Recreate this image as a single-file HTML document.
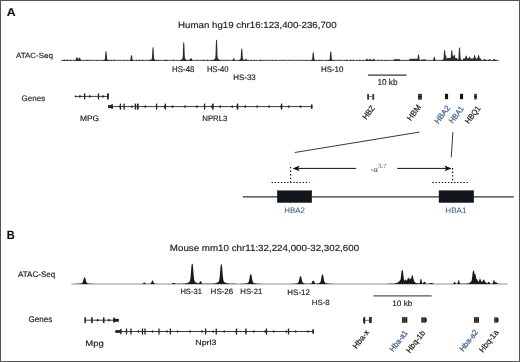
<!DOCTYPE html>
<html><head><meta charset="utf-8"><style>
html,body{margin:0;padding:0;background:#fff;}
svg{display:block;will-change:transform;}
text{text-rendering:geometricPrecision;}
</style></head><body>
<svg width="520" height="362" viewBox="0 0 520 362">
<rect width="520" height="362" fill="#fff"/>
<rect x="0.5" y="0.5" width="519" height="361" fill="none" stroke="#555" stroke-width="1"/>
<text x="6.69" y="16.00" font-size="11.45" font-family="Liberation Sans, sans-serif" font-weight="bold" fill="#111" textLength="8.84" lengthAdjust="spacingAndGlyphs" stroke="#111" stroke-width="0.16">A</text>
<text x="178.12" y="27.50" font-size="8.97" font-family="Liberation Sans, sans-serif" font-weight="normal" fill="#222" textLength="158.53" lengthAdjust="spacingAndGlyphs" stroke="#222" stroke-width="0.16">Human hg19 chr16:123,400-236,700</text>
<text x="15.96" y="57.60" font-size="7.57" font-family="Liberation Sans, sans-serif" font-weight="normal" fill="#222" textLength="36.87" lengthAdjust="spacingAndGlyphs" stroke="#222" stroke-width="0.16">ATAC-Seq</text>
<line x1="61.5" y1="60.4" x2="498.75" y2="60.4" stroke="#8a8a8a" stroke-width="1.1"/>
<path d="M61.50,61.00 L61.50,60.10 L61.75,59.99 L62.00,60.12 L62.25,60.34 L62.50,60.54 L62.75,60.67 L63.00,60.72 L63.25,60.51 L63.50,60.18 L63.75,59.85 L64.00,59.68 L64.25,59.65 L64.50,59.65 L64.75,59.67 L65.00,59.80 L65.25,60.09 L65.50,60.33 L65.75,60.53 L66.00,60.67 L66.25,60.65 L66.50,60.40 L66.75,60.09 L67.00,59.87 L67.25,59.80 L67.50,59.80 L67.75,59.80 L68.00,59.87 L68.25,60.09 L68.50,60.39 L68.75,60.53 L69.00,60.66 L69.25,60.76 L69.50,60.73 L69.75,60.63 L70.00,60.48 L70.25,60.25 L70.50,59.98 L70.75,59.78 L71.00,59.85 L71.25,60.12 L71.50,60.37 L71.75,60.56 L72.00,60.68 L72.25,60.76 L72.50,60.82 L72.75,60.85 L73.00,60.79 L73.25,60.71 L73.50,60.59 L73.75,60.42 L74.00,60.26 L74.25,60.24 L74.50,60.37 L74.75,60.55 L75.00,60.58 L75.25,60.50 L75.50,60.18 L75.75,59.56 L76.00,58.85 L76.25,57.99 L76.50,57.39 L76.75,57.21 L77.00,57.20 L77.25,57.21 L77.50,57.39 L77.75,57.99 L78.00,58.85 L78.25,59.56 L78.50,59.10 L78.75,58.37 L79.00,57.86 L79.25,57.71 L79.50,57.70 L79.75,57.71 L80.00,57.86 L80.25,58.37 L80.50,59.10 L80.75,59.78 L81.00,60.05 L81.25,60.20 L81.50,60.42 L81.75,60.59 L82.00,60.71 L82.25,60.77 L82.50,60.80 L82.75,60.79 L83.00,60.71 L83.25,60.58 L83.50,60.42 L83.75,60.30 L84.00,60.32 L84.25,60.47 L84.50,60.62 L84.75,60.74 L85.00,60.81 L85.25,60.82 L85.50,60.76 L85.75,60.68 L86.00,60.55 L86.25,60.36 L86.50,60.10 L86.75,59.83 L87.00,59.76 L87.25,59.96 L87.50,60.24 L87.75,60.47 L88.00,60.62 L88.25,60.72 L88.50,60.77 L88.75,60.70 L89.00,60.58 L89.25,60.40 L89.50,60.15 L89.75,59.91 L90.00,59.86 L90.25,60.05 L90.50,60.31 L90.75,60.52 L91.00,60.66 L91.25,60.75 L91.50,60.81 L91.75,60.85 L92.00,60.83 L92.25,60.76 L92.50,60.66 L92.75,60.52 L93.00,60.39 L93.25,60.36 L93.50,60.47 L93.75,60.62 L94.00,60.73 L94.25,60.81 L94.50,60.86 L94.75,60.83 L95.00,60.78 L95.25,60.70 L95.50,60.58 L95.75,60.41 L96.00,60.17 L96.25,59.98 L96.50,60.00 L96.75,60.21 L97.00,60.43 L97.25,60.60 L97.50,60.71 L97.75,60.79 L98.00,60.80 L98.25,60.71 L98.50,60.59 L98.75,60.45 L99.00,60.38 L99.25,60.45 L99.50,60.59 L99.75,60.71 L100.00,60.79 L100.25,60.84 L100.50,60.83 L100.75,60.81 L101.00,60.79 L101.25,60.77 L101.50,60.75 L101.75,60.65 L102.00,60.50 L102.25,60.29 L102.50,60.10 L102.75,60.06 L103.00,60.22 L103.25,60.40 L103.50,60.31 L103.75,60.19 L104.00,60.04 L104.25,59.86 L104.50,59.63 L104.75,59.40 L105.00,57.98 L105.25,54.25 L105.50,51.67 L105.75,51.31 L106.00,51.30 L106.25,51.31 L106.50,51.67 L106.75,54.25 L107.00,57.98 L107.25,59.40 L107.50,59.63 L107.75,59.86 L108.00,60.04 L108.25,60.10 L108.50,59.82 L108.75,59.71 L109.00,59.89 L109.25,60.19 L109.50,60.43 L109.75,60.60 L110.00,60.69 L110.25,60.71 L110.50,60.60 L110.75,60.44 L111.00,60.20 L111.25,59.93 L111.50,59.80 L111.75,59.94 L112.00,60.21 L112.25,60.45 L112.50,60.61 L112.75,60.72 L113.00,60.79 L113.25,60.74 L113.50,60.65 L113.75,60.51 L114.00,60.30 L114.25,60.01 L114.50,59.75 L114.75,59.73 L115.00,59.97 L115.25,60.26 L115.50,60.48 L115.75,60.63 L116.00,60.73 L116.25,60.79 L116.50,60.84 L116.75,60.87 L117.00,60.82 L117.25,60.76 L117.50,60.65 L117.75,60.51 L118.00,60.37 L118.25,60.33 L118.50,60.44 L118.75,60.60 L119.00,60.72 L119.25,60.80 L119.50,60.76 L119.75,60.66 L120.00,60.52 L120.25,60.35 L120.50,60.24 L120.75,60.30 L121.00,60.47 L121.25,60.63 L121.50,60.74 L121.75,60.81 L122.00,60.86 L122.25,60.89 L122.50,60.90 L122.75,60.87 L123.00,60.83 L123.25,60.77 L123.50,60.68 L123.75,60.55 L124.00,60.36 L124.25,60.15 L124.50,60.08 L124.75,60.20 L125.00,60.41 L125.25,60.59 L125.50,60.71 L125.75,60.79 L126.00,60.80 L126.25,60.72 L126.50,60.60 L126.75,60.44 L127.00,60.25 L127.25,60.18 L127.50,60.28 L127.75,60.47 L128.00,60.63 L128.25,60.74 L128.50,60.71 L128.75,60.66 L129.00,60.61 L129.25,60.54 L129.50,60.46 L129.75,60.35 L130.00,60.18 L130.25,60.07 L130.50,59.08 L130.75,56.97 L131.00,55.51 L131.25,55.30 L131.50,55.30 L131.75,55.30 L132.00,55.51 L132.25,56.97 L132.50,59.08 L132.75,60.07 L133.00,60.01 L133.25,59.98 L133.50,60.17 L133.75,60.40 L134.00,60.58 L134.25,60.66 L134.50,60.71 L134.75,60.74 L135.00,60.77 L135.25,60.69 L135.50,60.57 L135.75,60.39 L136.00,60.14 L136.25,59.85 L136.50,59.72 L136.75,59.88 L137.00,60.17 L137.25,60.42 L137.50,60.59 L137.75,60.70 L138.00,60.78 L138.25,60.75 L138.50,60.66 L138.75,60.53 L139.00,60.33 L139.25,60.06 L139.50,59.79 L139.75,59.72 L140.00,59.93 L140.25,60.22 L140.50,60.45 L140.75,60.61 L141.00,60.71 L141.25,60.78 L141.50,60.75 L141.75,60.66 L142.00,60.53 L142.25,60.33 L142.50,60.06 L142.75,59.76 L143.00,59.66 L143.25,59.86 L143.50,60.16 L143.75,60.41 L144.00,60.58 L144.25,60.70 L144.50,60.77 L144.75,60.80 L145.00,60.72 L145.25,60.60 L145.50,60.44 L145.75,60.30 L146.00,60.30 L146.25,60.44 L146.50,60.60 L146.75,60.72 L147.00,60.79 L147.25,60.77 L147.50,60.75 L147.75,60.73 L148.00,60.65 L148.25,60.51 L148.50,60.30 L148.75,60.02 L149.00,59.74 L149.25,59.70 L149.50,59.93 L149.75,60.23 L150.00,60.26 L150.25,60.14 L150.50,60.01 L150.75,59.83 L151.00,59.62 L151.25,59.41 L151.50,59.19 L151.75,58.93 L152.00,56.89 L152.25,51.53 L152.50,47.83 L152.75,47.31 L153.00,47.30 L153.25,47.31 L153.50,47.83 L153.75,51.53 L154.00,56.89 L154.25,58.93 L154.50,59.19 L154.75,59.41 L155.00,59.62 L155.25,59.83 L155.50,60.01 L155.75,60.14 L156.00,60.26 L156.25,60.35 L156.50,60.43 L156.75,60.49 L157.00,60.55 L157.25,60.60 L157.50,60.63 L157.75,60.47 L158.00,60.25 L158.25,60.03 L158.50,59.98 L158.75,60.15 L159.00,60.38 L159.25,60.56 L159.50,60.69 L159.75,60.77 L160.00,60.78 L160.25,60.69 L160.50,60.56 L160.75,60.42 L161.00,60.35 L161.25,60.43 L161.50,60.58 L161.75,60.70 L162.00,60.79 L162.25,60.85 L162.50,60.87 L162.75,60.84 L163.00,60.80 L163.25,60.73 L163.50,60.64 L163.75,60.50 L164.00,60.28 L164.25,59.99 L164.50,59.72 L164.75,59.68 L165.00,59.92 L165.25,60.22 L165.50,60.45 L165.75,60.61 L166.00,60.60 L166.25,60.43 L166.50,60.19 L166.75,59.92 L167.00,59.80 L167.25,59.95 L167.50,60.22 L167.75,60.45 L168.00,60.61 L168.25,60.72 L168.50,60.79 L168.75,60.84 L169.00,60.86 L169.25,60.81 L169.50,60.74 L169.75,60.62 L170.00,60.47 L170.25,60.32 L170.50,60.30 L170.75,60.42 L171.00,60.58 L171.25,60.71 L171.50,60.79 L171.75,60.82 L172.00,60.76 L172.25,60.68 L172.50,60.55 L172.75,60.36 L173.00,60.11 L173.25,59.87 L173.50,59.85 L173.75,60.07 L174.00,60.33 L174.25,60.53 L174.50,60.66 L174.75,60.75 L175.00,60.81 L175.25,60.85 L175.50,60.84 L175.75,60.83 L176.00,60.81 L176.25,60.73 L176.50,60.62 L176.75,60.48 L177.00,60.37 L177.25,60.41 L177.50,60.54 L177.75,60.67 L178.00,60.68 L178.25,60.65 L178.50,60.62 L178.75,60.59 L179.00,60.54 L179.25,60.50 L179.50,60.44 L179.75,60.38 L180.00,60.30 L180.25,60.21 L180.50,60.11 L180.75,59.98 L181.00,59.82 L181.25,59.63 L181.50,59.43 L181.75,59.23 L182.00,58.99 L182.25,58.69 L182.50,58.33 L182.75,55.52 L183.00,48.14 L183.25,43.02 L183.50,42.31 L183.75,42.30 L184.00,42.31 L184.25,43.02 L184.50,48.14 L184.75,55.52 L185.00,58.33 L185.25,58.69 L185.50,58.99 L185.75,59.23 L186.00,59.43 L186.25,59.63 L186.50,59.70 L186.75,59.96 L187.00,60.11 L187.25,60.21 L187.50,60.30 L187.75,60.38 L188.00,60.44 L188.25,60.46 L188.50,60.23 L188.75,59.93 L189.00,59.68 L189.25,59.71 L189.50,59.98 L189.75,60.00 L190.00,59.35 L190.25,58.75 L190.50,58.34 L190.75,58.21 L191.00,58.20 L191.25,58.21 L191.50,58.34 L191.75,58.75 L192.00,59.35 L192.25,60.00 L192.50,60.43 L192.75,60.65 L193.00,60.70 L193.25,60.75 L193.50,60.78 L193.75,60.81 L194.00,60.83 L194.25,60.83 L194.50,60.76 L194.75,60.67 L195.00,60.53 L195.25,60.40 L195.50,60.39 L195.75,60.50 L196.00,60.64 L196.25,60.75 L196.50,60.82 L196.75,60.81 L197.00,60.74 L197.25,60.63 L197.50,60.48 L197.75,60.27 L198.00,60.11 L198.25,60.14 L198.50,60.32 L198.75,60.52 L199.00,60.66 L199.25,60.76 L199.50,60.82 L199.75,60.86 L200.00,60.89 L200.25,60.85 L200.50,60.80 L200.75,60.71 L201.00,60.59 L201.25,60.43 L201.50,60.30 L201.75,60.31 L202.00,60.45 L202.25,60.61 L202.50,60.73 L202.75,60.75 L203.00,60.66 L203.25,60.52 L203.50,60.32 L203.75,60.05 L204.00,59.80 L204.25,59.78 L204.50,60.01 L204.75,60.29 L205.00,60.50 L205.25,60.64 L205.50,60.74 L205.75,60.80 L206.00,60.77 L206.25,60.69 L206.50,60.57 L206.75,60.40 L207.00,60.14 L207.25,59.85 L207.50,59.68 L207.75,59.82 L208.00,60.11 L208.25,60.37 L208.50,60.56 L208.75,60.68 L209.00,60.76 L209.25,60.77 L209.50,60.75 L209.75,60.73 L210.00,60.71 L210.25,60.69 L210.50,60.56 L210.75,60.37 L211.00,60.18 L211.25,60.12 L211.50,60.26 L211.75,60.46 L212.00,60.43 L212.25,60.37 L212.50,60.29 L212.75,60.21 L213.00,60.10 L213.25,59.98 L213.50,59.84 L213.75,59.66 L214.00,59.46 L214.25,59.28 L214.50,59.06 L214.75,58.79 L215.00,58.45 L215.25,58.03 L215.50,54.83 L215.75,46.44 L216.00,40.62 L216.25,39.81 L216.50,39.80 L216.75,39.81 L217.00,40.62 L217.25,46.44 L217.50,54.83 L217.75,58.03 L218.00,58.45 L218.25,58.79 L218.50,59.06 L218.75,59.28 L219.00,59.46 L219.25,59.66 L219.50,59.84 L219.75,59.98 L220.00,59.99 L220.25,59.95 L220.50,60.14 L220.75,60.37 L221.00,60.43 L221.25,60.48 L221.50,60.53 L221.75,60.57 L222.00,60.61 L222.25,60.64 L222.50,60.67 L222.75,60.63 L223.00,60.47 L223.25,60.25 L223.50,60.06 L223.75,60.04 L224.00,60.22 L224.25,60.44 L224.50,60.61 L224.75,60.72 L225.00,60.72 L225.25,60.62 L225.50,60.45 L225.75,60.23 L226.00,59.97 L226.25,59.86 L226.50,60.01 L226.75,60.26 L227.00,60.48 L227.25,60.63 L227.50,60.73 L227.75,60.80 L228.00,60.77 L228.25,60.68 L228.50,60.55 L228.75,60.37 L229.00,60.20 L229.25,60.19 L229.50,60.35 L229.75,60.53 L230.00,60.67 L230.25,60.77 L230.50,60.83 L230.75,60.87 L231.00,60.86 L231.25,60.84 L231.50,60.81 L231.75,60.76 L232.00,60.66 L232.25,60.52 L232.50,60.32 L232.75,60.00 L233.00,59.20 L233.25,58.50 L233.50,58.22 L233.75,58.20 L234.00,58.22 L234.25,58.50 L234.50,59.20 L234.75,60.00 L235.00,60.50 L235.25,60.54 L235.50,60.42 L235.75,60.40 L236.00,60.51 L236.25,60.65 L236.50,60.75 L236.75,60.73 L237.00,60.70 L237.25,60.67 L237.50,60.63 L237.75,60.59 L238.00,60.42 L238.25,60.19 L238.50,59.99 L238.75,60.00 L239.00,60.21 L239.25,60.10 L239.50,59.94 L239.75,59.75 L240.00,59.52 L240.25,59.31 L240.50,59.07 L240.75,57.23 L241.00,52.38 L241.25,49.03 L241.50,48.56 L241.75,48.55 L242.00,48.56 L242.25,49.03 L242.50,52.38 L242.75,57.23 L243.00,59.07 L243.25,59.31 L243.50,59.52 L243.75,59.75 L244.00,59.94 L244.25,60.10 L244.50,60.23 L244.75,60.33 L245.00,60.22 L245.25,59.48 L245.50,58.94 L245.75,58.72 L246.00,58.70 L246.25,58.72 L246.50,58.94 L246.75,59.48 L247.00,60.22 L247.25,60.61 L247.50,60.47 L247.75,60.26 L248.00,60.08 L248.25,60.08 L248.50,60.26 L248.75,60.47 L249.00,60.63 L249.25,60.73 L249.50,60.80 L249.75,60.85 L250.00,60.80 L250.25,60.73 L250.50,60.61 L250.75,60.45 L251.00,60.25 L251.25,60.14 L251.50,60.21 L251.75,60.40 L252.00,60.58 L252.25,60.70 L252.50,60.79 L252.75,60.83 L253.00,60.77 L253.25,60.69 L253.50,60.57 L253.75,60.39 L254.00,60.14 L254.25,59.90 L254.50,59.87 L254.75,60.07 L255.00,60.33 L255.25,60.53 L255.50,60.66 L255.75,60.75 L256.00,60.73 L256.25,60.61 L256.50,60.47 L256.75,60.36 L257.00,60.39 L257.25,60.53 L257.50,60.67 L257.75,60.77 L258.00,60.83 L258.25,60.87 L258.50,60.86 L258.75,60.83 L259.00,60.78 L259.25,60.71 L259.50,60.61 L259.75,60.45 L260.00,60.21 L260.25,59.91 L260.50,59.69 L260.75,59.75 L261.00,60.03 L261.25,60.31 L261.50,60.52 L261.75,60.65 L262.00,60.74 L262.25,60.69 L262.50,60.56 L262.75,60.38 L263.00,60.17 L263.25,60.06 L263.50,60.16 L263.75,60.38 L264.00,60.56 L264.25,60.69 L264.50,60.77 L264.75,60.83 L265.00,60.87 L265.25,60.84 L265.50,60.78 L265.75,60.70 L266.00,60.58 L266.25,60.40 L266.50,60.22 L266.75,60.17 L267.00,60.30 L267.25,60.49 L267.50,60.64 L267.75,60.74 L268.00,60.81 L268.25,60.82 L268.50,60.75 L268.75,60.65 L269.00,60.49 L269.25,60.31 L269.50,60.17 L269.75,60.22 L270.00,60.40 L270.25,60.57 L270.50,60.70 L270.75,60.78 L271.00,60.84 L271.25,60.80 L271.50,60.72 L271.75,60.62 L272.00,60.45 L272.25,60.23 L272.50,60.01 L272.75,59.97 L273.00,60.14 L273.25,60.38 L273.50,60.57 L273.75,60.69 L274.00,60.77 L274.25,60.83 L274.50,60.78 L274.75,60.69 L275.00,60.56 L275.25,60.38 L275.50,60.18 L275.75,60.12 L276.00,60.25 L276.25,60.45 L276.50,60.62 L276.75,60.73 L277.00,60.80 L277.25,60.85 L277.50,60.88 L277.75,60.89 L278.00,60.86 L278.25,60.80 L278.50,60.72 L278.75,60.60 L279.00,60.46 L279.25,60.38 L279.50,60.44 L279.75,60.58 L280.00,60.70 L280.25,60.79 L280.50,60.83 L280.75,60.77 L281.00,60.70 L281.25,60.58 L281.50,60.40 L281.75,60.15 L282.00,59.91 L282.25,59.86 L282.50,60.06 L282.75,60.32 L283.00,60.52 L283.25,60.66 L283.50,60.75 L283.75,60.81 L284.00,60.75 L284.25,60.65 L284.50,60.50 L284.75,60.33 L285.00,60.23 L285.25,60.31 L285.50,60.49 L285.75,60.64 L286.00,60.74 L286.25,60.81 L286.50,60.86 L286.75,60.89 L287.00,60.88 L287.25,60.84 L287.50,60.78 L287.75,60.69 L288.00,60.55 L288.25,60.38 L288.50,60.24 L288.75,60.25 L289.00,60.41 L289.25,60.58 L289.50,60.70 L289.75,60.79 L290.00,60.73 L290.25,60.62 L290.50,60.46 L290.75,60.25 L291.00,60.09 L291.25,60.12 L291.50,60.31 L291.75,60.51 L292.00,60.66 L292.25,60.75 L292.50,60.82 L292.75,60.86 L293.00,60.89 L293.25,60.87 L293.50,60.83 L293.75,60.76 L294.00,60.66 L294.25,60.52 L294.50,60.37 L294.75,60.33 L295.00,60.43 L295.25,60.58 L295.50,60.71 L295.75,60.79 L296.00,60.83 L296.25,60.78 L296.50,60.69 L296.75,60.56 L297.00,60.38 L297.25,60.20 L297.50,60.16 L297.75,60.30 L298.00,60.49 L298.25,60.65 L298.50,60.75 L298.75,60.82 L299.00,60.86 L299.25,60.88 L299.50,60.84 L299.75,60.79 L300.00,60.71 L300.25,60.59 L300.50,60.41 L300.75,60.20 L301.00,60.07 L301.25,60.15 L301.50,60.36 L301.75,60.55 L302.00,60.68 L302.25,60.77 L302.50,60.83 L302.75,60.86 L303.00,60.80 L303.25,60.73 L303.50,60.61 L303.75,60.46 L304.00,60.31 L304.25,60.29 L304.50,60.41 L304.75,60.58 L305.00,60.70 L305.25,60.79 L305.50,60.74 L305.75,60.64 L306.00,60.48 L306.25,60.27 L306.50,60.02 L306.75,59.91 L307.00,60.05 L307.25,60.29 L307.50,60.50 L307.75,60.65 L308.00,60.74 L308.25,60.81 L308.50,60.79 L308.75,60.77 L309.00,60.75 L309.25,60.72 L309.50,60.64 L309.75,60.49 L310.00,60.28 L310.25,60.10 L310.50,60.09 L310.75,60.26 L311.00,60.28 L311.25,60.14 L311.50,59.98 L311.75,59.78 L312.00,59.53 L312.25,58.25 L312.50,54.93 L312.75,52.63 L313.00,52.31 L313.25,52.30 L313.50,52.31 L313.75,52.63 L314.00,54.93 L314.25,58.25 L314.50,59.53 L314.75,59.78 L315.00,59.98 L315.25,60.14 L315.50,60.28 L315.75,60.38 L316.00,60.33 L316.25,60.26 L316.50,60.35 L316.75,60.52 L317.00,60.66 L317.25,60.72 L317.50,60.75 L317.75,60.77 L318.00,60.79 L318.25,60.74 L318.50,60.65 L318.75,60.51 L319.00,60.30 L319.25,60.02 L319.50,59.80 L319.75,59.82 L320.00,60.07 L320.25,60.33 L320.50,60.53 L320.75,60.66 L321.00,60.75 L321.25,60.67 L321.50,60.52 L321.75,60.34 L322.00,60.20 L322.25,60.23 L322.50,60.40 L322.75,60.58 L323.00,60.70 L323.25,60.79 L323.50,60.84 L323.75,60.88 L324.00,60.86 L324.25,60.82 L324.50,60.76 L324.75,60.67 L325.00,60.54 L325.25,60.34 L325.50,60.09 L325.75,59.93 L326.00,59.99 L326.25,60.23 L326.50,60.45 L326.75,60.62 L327.00,60.66 L327.25,60.61 L327.50,60.56 L327.75,60.50 L328.00,60.42 L328.25,60.33 L328.50,60.21 L328.75,60.07 L329.00,59.89 L329.25,59.67 L329.50,59.43 L329.75,58.05 L330.00,54.42 L330.25,51.91 L330.50,51.56 L330.75,51.55 L331.00,51.56 L331.25,51.91 L331.50,54.42 L331.75,58.05 L332.00,59.43 L332.25,59.67 L332.50,59.89 L332.75,60.07 L333.00,60.21 L333.25,60.33 L333.50,60.42 L333.75,60.50 L334.00,60.56 L334.25,60.61 L334.50,60.53 L334.75,60.35 L335.00,60.21 L335.25,60.23 L335.50,60.40 L335.75,60.57 L336.00,60.70 L336.25,60.78 L336.50,60.78 L336.75,60.70 L337.00,60.57 L337.25,60.39 L337.50,60.19 L337.75,60.09 L338.00,60.19 L338.25,60.40 L338.50,60.58 L338.75,60.70 L339.00,60.78 L339.25,60.84 L339.50,60.82 L339.75,60.76 L340.00,60.67 L340.25,60.53 L340.50,60.33 L340.75,60.14 L341.00,60.10 L341.25,60.26 L341.50,60.46 L341.75,60.62 L342.00,60.73 L342.25,60.80 L342.50,60.85 L342.75,60.88 L343.00,60.87 L343.25,60.83 L343.50,60.77 L343.75,60.68 L344.00,60.54 L344.25,60.38 L344.50,60.28 L344.75,60.35 L345.00,60.51 L345.25,60.66 L345.50,60.67 L345.75,60.54 L346.00,60.35 L346.25,60.08 L346.50,59.80 L346.75,59.70 L347.00,59.89 L347.25,60.19 L347.50,60.43 L347.75,60.60 L348.00,60.70 L348.25,60.78 L348.50,60.83 L348.75,60.84 L349.00,60.80 L349.25,60.74 L349.50,60.65 L349.75,60.52 L350.00,60.31 L350.25,60.03 L350.50,59.74 L350.75,59.67 L351.00,59.89 L351.25,60.19 L351.50,60.44 L351.75,60.60 L352.00,60.71 L352.25,60.61 L352.50,60.46 L352.75,60.23 L353.00,59.93 L353.25,59.71 L353.50,59.76 L353.75,60.03 L354.00,60.31 L354.25,60.52 L354.50,60.65 L354.75,60.74 L355.00,60.80 L355.25,60.85 L355.50,60.85 L355.75,60.80 L356.00,60.72 L356.25,60.60 L356.50,60.44 L356.75,60.28 L357.00,60.24 L357.25,60.37 L357.50,60.54 L357.75,60.68 L358.00,60.77 L358.25,60.80 L358.50,60.74 L358.75,60.64 L359.00,60.50 L359.25,60.29 L359.50,60.01 L359.75,59.79 L360.00,59.83 L360.25,60.08 L360.50,60.35 L360.75,60.54 L361.00,60.67 L361.25,60.76 L361.50,60.79 L361.75,60.72 L362.00,60.61 L362.25,60.44 L362.50,60.22 L362.75,60.04 L363.00,60.05 L363.25,60.24 L363.50,60.46 L363.75,60.62 L364.00,60.73 L364.25,60.68 L364.50,60.63 L364.75,60.55 L365.00,60.46 L365.25,60.31 L365.50,60.16 L365.75,59.95 L366.00,59.65 L366.25,59.35 L366.50,59.06 L366.75,58.81 L367.00,58.70 L367.25,58.81 L367.50,59.06 L367.75,59.35 L368.00,59.65 L368.25,59.95 L368.50,60.17 L368.75,60.00 L369.00,59.73 L369.25,59.41 L369.50,59.14 L369.75,58.90 L370.00,58.80 L370.25,58.90 L370.50,59.14 L370.75,59.41 L371.00,59.73 L371.25,60.00 L371.50,60.22 L371.75,60.34 L372.00,60.17 L372.25,59.95 L372.50,59.65 L372.75,59.35 L373.00,59.06 L373.25,58.81 L373.50,58.70 L373.75,58.81 L374.00,59.06 L374.25,59.35 L374.50,59.65 L374.75,59.95 L375.00,60.17 L375.25,60.34 L375.50,60.38 L375.75,60.49 L376.00,60.63 L376.25,60.68 L376.50,60.73 L376.75,60.77 L377.00,60.80 L377.25,60.76 L377.50,60.68 L377.75,60.55 L378.00,60.36 L378.25,60.11 L378.50,59.90 L378.75,59.93 L379.00,60.15 L379.25,60.40 L379.50,60.58 L379.75,60.70 L380.00,60.78 L380.25,60.77 L380.50,60.69 L380.75,60.57 L381.00,60.39 L381.25,60.13 L381.50,59.85 L381.75,59.73 L382.00,59.90 L382.25,60.19 L382.50,60.43 L382.75,60.60 L383.00,60.71 L383.25,60.78 L383.50,60.77 L383.75,60.68 L384.00,60.55 L384.25,60.36 L384.50,60.13 L384.75,59.97 L385.00,60.05 L385.25,60.27 L385.50,60.48 L385.75,60.64 L386.00,60.63 L386.25,60.47 L386.50,60.25 L386.75,59.98 L387.00,59.84 L387.25,59.96 L387.50,60.22 L387.75,60.45 L388.00,60.61 L388.25,60.72 L388.50,60.79 L388.75,60.84 L389.00,60.81 L389.25,60.74 L389.50,60.63 L389.75,60.47 L390.00,60.28 L390.25,60.18 L390.50,60.25 L390.75,60.44 L391.00,60.60 L391.25,60.72 L391.50,60.80 L391.75,60.85 L392.00,60.88 L392.25,60.84 L392.50,60.79 L392.75,60.72 L393.00,60.61 L393.25,60.44 L393.50,60.22 L393.75,60.03 L394.00,59.30 L394.25,59.30 L394.50,59.30 L394.75,59.30 L395.00,59.30 L395.25,59.30 L395.50,59.30 L395.75,59.30 L396.00,59.30 L396.25,59.30 L396.50,59.30 L396.75,59.30 L397.00,59.30 L397.25,59.30 L397.50,59.30 L397.75,59.30 L398.00,59.30 L398.25,59.30 L398.50,59.30 L398.75,59.30 L399.00,59.30 L399.25,59.30 L399.50,59.30 L399.75,59.30 L400.00,59.30 L400.25,60.23 L400.50,60.42 L400.75,60.59 L401.00,60.71 L401.25,60.78 L401.50,60.70 L401.75,60.59 L402.00,60.42 L402.25,60.18 L402.50,59.90 L402.75,59.75 L403.00,59.89 L403.25,60.17 L403.50,60.42 L403.75,60.59 L404.00,60.70 L404.25,60.78 L404.50,60.80 L404.75,60.74 L405.00,60.65 L405.25,60.50 L405.50,60.29 L405.75,60.03 L406.00,59.83 L406.25,59.88 L406.50,60.13 L406.75,60.38 L407.00,60.57 L407.25,60.69 L407.50,60.77 L407.75,60.82 L408.00,60.77 L408.25,60.68 L408.50,60.54 L408.75,60.37 L409.00,60.26 L409.25,60.31 L409.50,58.80 L409.75,58.80 L410.00,58.80 L410.25,58.80 L410.50,58.80 L410.75,58.80 L411.00,58.80 L411.25,58.80 L411.50,58.80 L411.75,58.80 L412.00,58.80 L412.25,58.80 L412.50,58.80 L412.75,58.80 L413.00,58.80 L413.25,58.80 L413.50,58.80 L413.75,58.80 L414.00,58.80 L414.25,58.80 L414.50,58.80 L414.75,58.80 L415.00,58.80 L415.25,58.80 L415.50,58.80 L415.75,58.80 L416.00,58.80 L416.25,58.80 L416.50,58.80 L416.75,58.80 L417.00,58.80 L417.25,58.80 L417.50,58.80 L417.75,56.46 L418.00,54.79 L418.25,54.55 L418.50,54.55 L418.75,54.55 L419.00,54.79 L419.25,56.46 L419.50,58.87 L419.75,59.94 L420.00,60.11 L420.25,60.26 L420.50,60.38 L420.75,60.47 L421.00,60.55 L421.25,60.61 L421.50,59.50 L421.75,59.50 L422.00,59.50 L422.25,59.50 L422.50,59.50 L422.75,59.50 L423.00,59.50 L423.25,59.50 L423.50,59.50 L423.75,59.50 L424.00,59.50 L424.25,59.50 L424.50,59.50 L424.75,59.50 L425.00,59.50 L425.25,59.50 L425.50,59.50 L425.75,59.50 L426.00,59.50 L426.25,60.76 L426.50,60.68 L426.75,60.54 L427.00,60.36 L427.25,60.21 L427.50,60.23 L427.75,60.39 L428.00,60.57 L428.25,60.70 L428.50,60.78 L428.75,60.84 L429.00,60.85 L429.25,60.81 L429.50,60.74 L429.75,60.63 L430.00,60.48 L430.25,60.27 L430.50,60.06 L430.75,60.02 L431.00,60.19 L431.25,60.41 L431.50,60.59 L431.75,60.71 L432.00,60.70 L432.25,60.65 L432.50,60.58 L432.75,60.49 L433.00,60.29 L433.25,59.56 L433.50,58.60 L433.75,57.39 L434.00,56.77 L434.25,56.70 L434.50,56.71 L434.75,57.05 L435.00,58.10 L435.25,59.23 L435.50,60.06 L435.75,60.45 L436.00,60.55 L436.25,60.62 L436.50,60.68 L436.75,60.67 L437.00,60.53 L437.25,60.42 L437.50,60.42 L437.75,60.53 L438.00,60.66 L438.25,60.76 L438.50,60.78 L438.75,60.77 L439.00,60.68 L439.25,60.54 L439.50,60.39 L439.75,60.30 L440.00,60.38 L440.25,60.54 L440.50,60.66 L440.75,60.62 L441.00,60.58 L441.25,60.52 L441.50,60.45 L441.75,60.37 L442.00,60.27 L442.25,60.15 L442.50,60.00 L442.75,59.81 L443.00,59.57 L443.25,59.36 L443.50,58.69 L443.75,55.35 L444.00,51.33 L444.25,50.25 L444.50,50.20 L444.75,50.20 L445.00,50.31 L445.25,51.92 L445.50,55.20 L445.75,55.20 L446.00,55.26 L446.25,56.08 L446.50,58.30 L446.75,59.80 L447.00,57.90 L447.25,57.90 L447.50,57.90 L447.75,57.90 L448.00,57.90 L448.25,57.90 L448.50,57.90 L448.75,57.90 L449.00,57.90 L449.25,57.90 L449.50,57.90 L449.75,57.90 L450.00,57.90 L450.25,57.90 L450.50,57.63 L450.75,57.35 L451.00,54.42 L451.25,50.90 L451.50,50.22 L451.75,50.20 L452.00,50.20 L452.25,50.42 L452.50,52.65 L452.75,55.85 L453.00,55.98 L453.25,56.19 L453.50,56.45 L453.75,55.19 L454.00,54.81 L454.25,54.80 L454.50,54.80 L454.75,54.92 L455.00,56.16 L455.25,57.90 L455.50,57.90 L455.75,57.90 L456.00,57.90 L456.25,57.90 L456.50,57.90 L456.75,57.90 L457.00,57.90 L457.25,59.48 L457.50,59.59 L457.75,59.43 L458.00,59.22 L458.25,58.96 L458.50,56.97 L458.75,51.74 L459.00,48.11 L459.25,47.61 L459.50,47.60 L459.75,47.61 L460.00,48.11 L460.25,51.74 L460.50,56.97 L460.75,58.96 L461.00,59.22 L461.25,59.43 L461.50,59.65 L461.75,59.86 L462.00,60.03 L462.25,60.16 L462.50,60.27 L462.75,60.17 L463.00,58.40 L463.25,58.40 L463.50,58.40 L463.75,58.40 L464.00,58.40 L464.25,58.40 L464.50,58.40 L464.75,58.40 L465.00,57.95 L465.25,57.36 L465.50,56.69 L465.75,56.03 L466.00,55.54 L466.25,55.41 L466.50,55.70 L466.75,56.29 L467.00,56.97 L467.25,57.61 L467.50,58.15 L467.75,58.40 L468.00,58.40 L468.25,58.40 L468.50,58.40 L468.75,58.00 L469.00,57.42 L469.25,56.87 L469.50,56.53 L469.75,56.57 L470.00,56.97 L470.25,57.54 L470.50,58.10 L470.75,58.40 L471.00,58.40 L471.25,58.40 L471.50,58.40 L471.75,58.40 L472.00,58.40 L472.25,58.40 L472.50,58.40 L472.75,58.40 L473.00,58.40 L473.25,58.40 L473.50,57.83 L473.75,57.07 L474.00,56.16 L474.25,55.24 L474.50,54.66 L474.75,54.73 L475.00,55.41 L475.25,56.35 L475.50,57.24 L475.75,57.96 L476.00,58.40 L476.25,58.40 L476.50,58.40 L476.75,58.40 L477.00,58.40 L477.25,58.40 L477.50,57.83 L477.75,57.07 L478.00,56.16 L478.25,55.24 L478.50,54.66 L478.75,54.73 L479.00,55.41 L479.25,56.35 L479.50,57.24 L479.75,57.96 L480.00,58.40 L480.25,58.40 L480.50,58.40 L480.75,58.40 L481.00,58.40 L481.25,59.90 L481.50,60.06 L481.75,60.19 L482.00,60.30 L482.25,60.38 L482.50,60.45 L482.75,60.51 L483.00,60.44 L483.25,60.24 L483.50,60.09 L483.75,59.52 L484.00,59.17 L484.25,59.02 L484.50,59.00 L484.75,59.00 L485.00,59.04 L485.25,59.23 L485.50,59.64 L485.75,60.18 L486.00,60.43 L486.25,60.20 L486.50,59.95 L486.75,59.88 L487.00,60.05 L487.25,60.31 L487.50,60.51 L487.75,60.65 L488.00,60.74 L488.25,60.55 L488.50,60.21 L488.75,59.72 L489.00,59.35 L489.25,59.22 L489.50,59.20 L489.75,59.20 L490.00,59.23 L490.25,59.40 L490.50,59.82 L490.75,60.29 L491.00,60.60 L491.25,60.77 L491.50,60.82 L491.75,60.78 L492.00,60.69 L492.25,60.56 L492.50,60.38 L492.75,60.24 L493.00,60.22 L493.25,59.68 L493.50,59.21 L493.75,58.96 L494.00,58.90 L494.25,58.90 L494.50,58.91 L494.75,59.03 L495.00,59.36 L495.25,59.92 L495.50,60.29 L495.75,60.04 L496.00,59.88 L496.25,59.97 L496.50,60.22 L496.75,60.45 L497.00,60.61 L497.25,60.72 L497.50,60.79 L497.75,60.84 L498.00,60.87 L498.25,60.90 L498.50,60.92 L498.75,60.93 L498.75,61.00 Z" fill="#2e2e2e"/>
<text x="172.12" y="71.90" font-size="8.43" font-family="Liberation Sans, sans-serif" font-weight="normal" fill="#222" textLength="22.29" lengthAdjust="spacingAndGlyphs" stroke="#222" stroke-width="0.16">HS-48</text>
<text x="206.89" y="71.90" font-size="8.43" font-family="Liberation Sans, sans-serif" font-weight="normal" fill="#222" textLength="21.51" lengthAdjust="spacingAndGlyphs" stroke="#222" stroke-width="0.16">HS-40</text>
<text x="233.37" y="79.50" font-size="8.00" font-family="Liberation Sans, sans-serif" font-weight="normal" fill="#222" textLength="22.38" lengthAdjust="spacingAndGlyphs" stroke="#222" stroke-width="0.16">HS-33</text>
<text x="320.97" y="71.90" font-size="8.07" font-family="Liberation Sans, sans-serif" font-weight="normal" fill="#222" textLength="22.45" lengthAdjust="spacingAndGlyphs" stroke="#222" stroke-width="0.16">HS-10</text>
<line x1="367.9" y1="75.05" x2="406.5" y2="75.05" stroke="#333" stroke-width="1.2"/>
<text x="377.38" y="84.90" font-size="8.48" font-family="Liberation Sans, sans-serif" font-weight="normal" fill="#222" textLength="20.16" lengthAdjust="spacingAndGlyphs" stroke="#222" stroke-width="0.16">10 kb</text>
<text x="21.50" y="101.10" font-size="8.00" font-family="Liberation Sans, sans-serif" font-weight="normal" fill="#222" textLength="23.80" lengthAdjust="spacingAndGlyphs" stroke="#222" stroke-width="0.16">Genes</text>
<line x1="74.75" y1="96.4" x2="108.5" y2="96.4" stroke="#222" stroke-width="0.9"/>
<rect x="74.90" y="95.30" width="0.7" height="2.2" fill="#222"/>
<rect x="83.95" y="93.40" width="1.3" height="6" fill="#222"/>
<rect x="97.85" y="93.40" width="1.3" height="6" fill="#222"/>
<rect x="107.00" y="93.30" width="1.8" height="6.2" fill="#222"/>
<path d="M79.40,94.80 L81.70,96.4 L79.40,98.00 Z" fill="#222"/>
<path d="M89.10,94.80 L91.40,96.4 L89.10,98.00 Z" fill="#222"/>
<path d="M102.55,94.80 L104.85,96.4 L102.55,98.00 Z" fill="#222"/>
<text x="79.93" y="121.10" font-size="8.00" font-family="Liberation Sans, sans-serif" font-weight="normal" fill="#222" textLength="19.19" lengthAdjust="spacingAndGlyphs" stroke="#222" stroke-width="0.16">MPG</text>
<line x1="108" y1="106.6" x2="312.5" y2="106.6" stroke="#222" stroke-width="0.9"/>
<rect x="111.40" y="104.10" width="1.4" height="5" fill="#222"/>
<rect x="119.75" y="103.60" width="1.3" height="6" fill="#222"/>
<rect x="123.45" y="103.60" width="1.3" height="6" fill="#222"/>
<rect x="134.75" y="103.60" width="1.3" height="6" fill="#222"/>
<rect x="136.85" y="103.60" width="1.8" height="6" fill="#222"/>
<rect x="155.95" y="103.60" width="1.3" height="6" fill="#222"/>
<rect x="164.75" y="103.60" width="1.3" height="6" fill="#222"/>
<rect x="203.95" y="103.60" width="1.3" height="6" fill="#222"/>
<rect x="212.10" y="103.60" width="1.6" height="6" fill="#222"/>
<rect x="236.70" y="103.60" width="1.6" height="6" fill="#222"/>
<rect x="280.90" y="103.60" width="1.4" height="6" fill="#222"/>
<rect x="310.90" y="104.35" width="1.6" height="4.5" fill="#222"/>
<path d="M120.80,105.00 L118.50,106.6 L120.80,108.20 Z" fill="#222"/>
<path d="M132.45,105.00 L130.15,106.6 L132.45,108.20 Z" fill="#222"/>
<path d="M145.95,105.00 L143.65,106.6 L145.95,108.20 Z" fill="#222"/>
<path d="M165.20,105.00 L162.90,106.6 L165.20,108.20 Z" fill="#222"/>
<path d="M173.10,105.00 L170.80,106.6 L173.10,108.20 Z" fill="#222"/>
<path d="M185.60,105.00 L183.30,106.6 L185.60,108.20 Z" fill="#222"/>
<path d="M197.45,105.00 L195.15,106.6 L197.45,108.20 Z" fill="#222"/>
<path d="M212.45,105.00 L210.15,106.6 L212.45,108.20 Z" fill="#222"/>
<path d="M220.80,105.00 L218.50,106.6 L220.80,108.20 Z" fill="#222"/>
<path d="M232.80,105.00 L230.50,106.6 L232.80,108.20 Z" fill="#222"/>
<path d="M245.80,105.00 L243.50,106.6 L245.80,108.20 Z" fill="#222"/>
<path d="M257.70,105.00 L255.40,106.6 L257.70,108.20 Z" fill="#222"/>
<path d="M269.70,105.00 L267.40,106.6 L269.70,108.20 Z" fill="#222"/>
<path d="M281.70,105.00 L279.40,106.6 L281.70,108.20 Z" fill="#222"/>
<path d="M289.30,105.00 L287.00,106.6 L289.30,108.20 Z" fill="#222"/>
<path d="M301.20,105.00 L298.90,106.6 L301.20,108.20 Z" fill="#222"/>
<rect x="108.1" y="105.1" width="4.400000000000006" height="3" fill="#222"/>
<text x="202.28" y="121.00" font-size="7.71" font-family="Liberation Sans, sans-serif" font-weight="normal" fill="#222" textLength="25.17" lengthAdjust="spacingAndGlyphs" stroke="#222" stroke-width="0.16">NPRL3</text>
<rect x="367.2" y="93.8" width="1.8" height="6" rx="0.8" fill="#333"/><rect x="372.2" y="94" width="2" height="5.8" fill="#444"/><line x1="368.5" y1="96.5" x2="372.5" y2="96.5" stroke="#555" stroke-width="0.7"/>
<rect x="418" y="93.8" width="3.9" height="5.9" fill="#3c3c3c"/><line x1="418" y1="96.7" x2="421.9" y2="96.7" stroke="#111" stroke-width="0.9"/>
<rect x="445" y="93.8" width="3.1" height="5.5" rx="0.8" fill="#121212"/>
<rect x="460" y="93.8" width="3.1" height="5.5" rx="0.8" fill="#121212"/>
<rect x="474.2" y="93.8" width="2.6" height="5.6" fill="#333"/><line x1="474.2" y1="96.6" x2="476.8" y2="96.6" stroke="#111" stroke-width="0.9"/>
<text x="-0.60" y="0" font-size="7.97" font-family="Liberation Sans, sans-serif" fill="#222" textLength="15.03" lengthAdjust="spacingAndGlyphs" stroke="#222" stroke-width="0.22" transform="translate(366.50,119.60) rotate(-52.5)">HBZ</text>
<text x="-0.63" y="0" font-size="7.97" font-family="Liberation Sans, sans-serif" fill="#222" textLength="17.54" lengthAdjust="spacingAndGlyphs" stroke="#222" stroke-width="0.22" transform="translate(411.20,120.80) rotate(-52.5)">HBM</text>
<text x="-0.62" y="0" font-size="7.97" font-family="Liberation Sans, sans-serif" fill="#3a6190" textLength="20.18" lengthAdjust="spacingAndGlyphs" stroke="#3a6190" stroke-width="0.22" transform="translate(438.60,123.70) rotate(-52.5)">HBA2</text>
<text x="-0.57" y="0" font-size="7.97" font-family="Liberation Sans, sans-serif" fill="#3a6190" textLength="18.75" lengthAdjust="spacingAndGlyphs" stroke="#3a6190" stroke-width="0.22" transform="translate(453.20,123.30) rotate(-52.5)">HBA1</text>
<text x="-0.58" y="0" font-size="7.97" font-family="Liberation Sans, sans-serif" fill="#222" textLength="19.82" lengthAdjust="spacingAndGlyphs" stroke="#222" stroke-width="0.22" transform="translate(469.20,123.70) rotate(-52.5)">HBQ1</text>
<line x1="294.75" y1="152.5" x2="419.4" y2="132.1" stroke="#222" stroke-width="0.9"/>
<line x1="452.9" y1="132.1" x2="451.25" y2="157.25" stroke="#222" stroke-width="0.9"/>
<line x1="296" y1="168.4" x2="356.2" y2="168.4" stroke="#111" stroke-width="1"/>
<path d="M292.5,168.4 L299.8,165.6 L298,168.4 L299.8,171.2 Z" fill="#111"/>
<line x1="397.2" y1="168.4" x2="448" y2="168.4" stroke="#111" stroke-width="1"/>
<path d="M451.7,168.4 L444.4,165.6 L446.2,168.4 L444.4,171.2 Z" fill="#111"/>
<text x="370.7" y="171.6" font-size="8.2" font-family="Liberation Serif, serif" fill="#333">-α</text>
<text x="378.6" y="168" font-size="6.3" font-family="Liberation Serif, serif" fill="#333">3.7</text>
<line x1="290.6" y1="166.9" x2="290.6" y2="182" stroke="#111" stroke-width="1.2" stroke-dasharray="1.4,2.2"/>
<line x1="271.6" y1="182.5" x2="309.5" y2="182.5" stroke="#111" stroke-width="1.2" stroke-dasharray="1.4,1.7"/>
<line x1="452.6" y1="168" x2="452.6" y2="182" stroke="#111" stroke-width="1.2" stroke-dasharray="1.4,2.2"/>
<line x1="432.4" y1="182.5" x2="469.6" y2="182.5" stroke="#111" stroke-width="1.2" stroke-dasharray="1.4,1.7"/>
<line x1="242.9" y1="196.8" x2="513.7" y2="196.8" stroke="#333" stroke-width="1.3"/>
<rect x="277.2" y="190.7" width="34.6" height="11.9" fill="#12171d" stroke="#1d2b3a" stroke-width="0.4"/>
<rect x="439.0" y="190.6" width="34.8" height="12" fill="#12171d" stroke="#1d2b3a" stroke-width="0.4"/>
<text x="284.21" y="212.70" font-size="8.00" font-family="Liberation Sans, sans-serif" font-weight="normal" fill="#34567c" textLength="20.80" lengthAdjust="spacingAndGlyphs" stroke="#34567c" stroke-width="0">HBA2</text>
<text x="445.35" y="212.50" font-size="7.83" font-family="Liberation Sans, sans-serif" font-weight="normal" fill="#34567c" textLength="21.07" lengthAdjust="spacingAndGlyphs" stroke="#34567c" stroke-width="0">HBA1</text>
<text x="6.79" y="239.40" font-size="12.03" font-family="Liberation Sans, sans-serif" font-weight="bold" fill="#111" textLength="7.93" lengthAdjust="spacingAndGlyphs" stroke="#111" stroke-width="0.16">B</text>
<text x="169.82" y="250.75" font-size="8.97" font-family="Liberation Sans, sans-serif" font-weight="normal" fill="#222" textLength="189.31" lengthAdjust="spacingAndGlyphs" stroke="#222" stroke-width="0.16">Mouse mm10 chr11:32,224,000-32,302,600</text>
<text x="17.96" y="277.25" font-size="8.07" font-family="Liberation Sans, sans-serif" font-weight="normal" fill="#222" textLength="37.32" lengthAdjust="spacingAndGlyphs" stroke="#222" stroke-width="0.16">ATAC-Seq</text>
<line x1="71.25" y1="283.9" x2="507.5" y2="283.9" stroke="#b4b4b4" stroke-width="1.5"/>
<path d="M71.25,284.00 L71.25,283.95 L71.50,283.95 L71.75,283.95 L72.00,283.94 L72.25,283.94 L72.50,283.94 L72.75,283.94 L73.00,283.93 L73.25,283.93 L73.50,283.93 L73.75,283.92 L74.00,283.92 L74.25,283.92 L74.50,283.91 L74.75,283.91 L75.00,283.90 L75.25,283.90 L75.50,283.89 L75.75,283.89 L76.00,283.88 L76.25,283.88 L76.50,283.87 L76.75,283.86 L77.00,283.85 L77.25,283.84 L77.50,283.83 L77.75,283.82 L78.00,283.81 L78.25,283.79 L78.50,283.78 L78.75,283.76 L79.00,283.74 L79.25,283.72 L79.50,283.70 L79.75,283.67 L80.00,283.64 L80.25,283.61 L80.50,283.57 L80.75,283.53 L81.00,283.48 L81.25,283.42 L81.50,283.35 L81.75,283.28 L82.00,283.18 L82.25,282.87 L82.50,282.45 L82.75,282.00 L83.00,281.37 L83.25,280.50 L83.50,279.47 L83.75,278.49 L84.00,277.83 L84.25,277.55 L84.50,277.50 L84.75,277.50 L85.00,277.58 L85.25,277.93 L85.50,278.67 L85.75,279.68 L86.00,280.69 L86.25,281.51 L86.50,282.11 L86.75,282.52 L87.00,282.94 L87.25,283.21 L87.50,283.29 L87.75,283.37 L88.00,283.43 L88.25,283.49 L88.50,283.54 L88.75,283.58 L89.00,283.62 L89.25,283.65 L89.50,283.68 L89.75,283.70 L90.00,283.73 L90.25,283.75 L90.50,283.77 L90.75,283.78 L91.00,283.80 L91.25,283.81 L91.50,283.82 L91.75,283.83 L92.00,283.84 L92.25,283.85 L92.50,283.86 L92.75,283.87 L93.00,283.88 L93.25,283.88 L93.50,283.89 L93.75,283.90 L94.00,283.90 L94.25,283.91 L94.50,283.91 L94.75,283.91 L95.00,283.92 L95.25,283.92 L95.50,283.93 L95.75,283.93 L96.00,283.93 L96.25,283.93 L96.50,283.94 L96.75,283.94 L97.00,283.94 L97.25,283.94 L97.50,283.95 L97.75,283.95 L98.00,283.95 L98.25,283.95 L98.50,283.95 L98.75,283.95 L99.00,283.96 L99.25,283.96 L99.50,283.96 L99.75,283.96 L100.00,283.96 L100.25,283.96 L100.50,283.96 L100.75,283.97 L101.00,283.97 L101.25,283.97 L101.50,283.97 L101.75,283.97 L102.00,283.97 L102.25,283.97 L102.50,283.97 L102.75,283.97 L103.00,283.97 L103.25,283.97 L103.50,283.97 L103.75,283.98 L104.00,283.98 L104.25,283.98 L104.50,283.98 L104.75,283.98 L105.00,283.98 L105.25,283.98 L105.50,283.98 L105.75,283.98 L106.00,283.98 L106.25,283.98 L106.50,283.98 L106.75,283.98 L107.00,283.98 L107.25,283.98 L107.50,283.98 L107.75,283.98 L108.00,283.98 L108.25,283.98 L108.50,283.98 L108.75,283.98 L109.00,283.98 L109.25,283.98 L109.50,283.99 L109.75,283.99 L110.00,283.99 L110.25,283.99 L110.50,283.99 L110.75,283.99 L111.00,283.99 L111.25,283.99 L111.50,283.99 L111.75,283.99 L112.00,283.99 L112.25,283.99 L112.50,283.99 L112.75,283.99 L113.00,283.99 L113.25,283.99 L113.50,283.99 L113.75,283.99 L114.00,283.99 L114.25,283.99 L114.50,283.99 L114.75,283.99 L115.00,283.99 L115.25,283.99 L115.50,283.99 L115.75,283.99 L116.00,283.99 L116.25,283.99 L116.50,283.99 L116.75,283.99 L117.00,283.99 L117.25,283.99 L117.50,283.99 L117.75,283.99 L118.00,283.99 L118.25,283.99 L118.50,283.99 L118.75,283.99 L119.00,283.99 L119.25,283.99 L119.50,283.99 L119.75,283.99 L120.00,283.99 L120.25,283.99 L120.50,283.99 L120.75,283.99 L121.00,283.99 L121.25,283.99 L121.50,283.99 L121.75,283.99 L122.00,283.99 L122.25,283.99 L122.50,283.99 L122.75,283.99 L123.00,283.99 L123.25,283.99 L123.50,283.99 L123.75,283.99 L124.00,283.99 L124.25,283.99 L124.50,283.99 L124.75,283.99 L125.00,283.99 L125.25,283.99 L125.50,283.99 L125.75,283.99 L126.00,283.99 L126.25,283.99 L126.50,283.99 L126.75,283.99 L127.00,283.99 L127.25,283.99 L127.50,283.99 L127.75,283.99 L128.00,283.99 L128.25,283.99 L128.50,283.99 L128.75,283.99 L129.00,283.99 L129.25,283.99 L129.50,283.99 L129.75,283.99 L130.00,283.99 L130.25,283.99 L130.50,283.99 L130.75,283.99 L131.00,283.99 L131.25,283.99 L131.50,283.99 L131.75,283.99 L132.00,283.99 L132.25,283.99 L132.50,283.99 L132.75,283.99 L133.00,283.99 L133.25,283.99 L133.50,283.99 L133.75,283.99 L134.00,283.99 L134.25,283.99 L134.50,283.99 L134.75,283.99 L135.00,283.99 L135.25,283.99 L135.50,283.99 L135.75,283.99 L136.00,283.99 L136.25,283.99 L136.50,283.99 L136.75,283.99 L137.00,283.99 L137.25,283.98 L137.50,283.98 L137.75,283.98 L138.00,283.98 L138.25,283.98 L138.50,283.98 L138.75,283.98 L139.00,283.97 L139.25,283.97 L139.50,283.97 L139.75,283.97 L140.00,283.96 L140.25,283.96 L140.50,283.95 L140.75,283.95 L141.00,283.94 L141.25,283.93 L141.50,283.92 L141.75,283.91 L142.00,283.90 L142.25,283.88 L142.50,283.86 L142.75,283.82 L143.00,283.69 L143.25,283.45 L143.50,283.09 L143.75,282.73 L144.00,282.54 L144.25,282.50 L144.50,282.50 L144.75,282.52 L145.00,282.67 L145.25,283.01 L145.50,283.39 L145.75,283.65 L146.00,283.80 L146.25,283.86 L146.50,283.88 L146.75,283.90 L147.00,283.91 L147.25,283.92 L147.50,283.91 L147.75,283.90 L148.00,283.89 L148.25,283.88 L148.50,283.86 L148.75,283.85 L149.00,283.83 L149.25,283.81 L149.50,283.78 L149.75,283.75 L150.00,283.71 L150.25,283.67 L150.50,283.61 L150.75,283.55 L151.00,283.26 L151.25,282.69 L151.50,282.00 L151.75,281.22 L152.00,280.68 L152.25,280.51 L152.50,280.50 L152.75,280.51 L153.00,280.68 L153.25,281.22 L153.50,282.00 L153.75,282.69 L154.00,283.26 L154.25,283.55 L154.50,283.61 L154.75,283.67 L155.00,283.71 L155.25,283.75 L155.50,283.78 L155.75,283.81 L156.00,283.83 L156.25,283.85 L156.50,283.86 L156.75,283.88 L157.00,283.89 L157.25,283.90 L157.50,283.91 L157.75,283.92 L158.00,283.92 L158.25,283.93 L158.50,283.93 L158.75,283.94 L159.00,283.94 L159.25,283.95 L159.50,283.95 L159.75,283.95 L160.00,283.96 L160.25,283.96 L160.50,283.96 L160.75,283.96 L161.00,283.97 L161.25,283.97 L161.50,283.97 L161.75,283.97 L162.00,283.97 L162.25,283.97 L162.50,283.97 L162.75,283.97 L163.00,283.96 L163.25,283.96 L163.50,283.96 L163.75,283.96 L164.00,283.96 L164.25,283.96 L164.50,283.96 L164.75,283.96 L165.00,283.96 L165.25,283.96 L165.50,283.96 L165.75,283.96 L166.00,283.96 L166.25,283.96 L166.50,283.95 L166.75,283.95 L167.00,283.95 L167.25,283.95 L167.50,283.95 L167.75,283.95 L168.00,283.95 L168.25,283.95 L168.50,283.95 L168.75,283.95 L169.00,283.94 L169.25,283.94 L169.50,283.94 L169.75,283.94 L170.00,283.93 L170.25,283.93 L170.50,283.92 L170.75,283.91 L171.00,283.90 L171.25,283.88 L171.50,283.83 L171.75,283.75 L172.00,283.63 L172.25,283.47 L172.50,283.29 L172.75,283.12 L173.00,283.01 L173.25,282.96 L173.50,282.95 L173.75,282.95 L174.00,282.95 L174.25,282.96 L174.50,283.01 L174.75,283.12 L175.00,283.29 L175.25,283.47 L175.50,283.63 L175.75,283.75 L176.00,283.83 L176.25,283.88 L176.50,283.88 L176.75,283.88 L177.00,283.87 L177.25,283.87 L177.50,283.86 L177.75,283.86 L178.00,283.85 L178.25,283.85 L178.50,283.84 L178.75,283.84 L179.00,283.83 L179.25,283.82 L179.50,283.82 L179.75,283.81 L180.00,283.80 L180.25,283.79 L180.50,283.79 L180.75,283.78 L181.00,283.77 L181.25,283.76 L181.50,283.74 L181.75,283.73 L182.00,283.72 L182.25,283.71 L182.50,283.69 L182.75,283.68 L183.00,283.66 L183.25,283.64 L183.50,283.62 L183.75,283.60 L184.00,283.58 L184.25,283.55 L184.50,283.52 L184.75,283.49 L185.00,283.46 L185.25,283.43 L185.50,283.39 L185.75,283.34 L186.00,283.29 L186.25,283.24 L186.50,283.18 L186.75,283.12 L187.00,283.04 L187.25,282.96 L187.50,282.86 L187.75,282.76 L188.00,282.64 L188.25,282.50 L188.50,282.40 L188.75,282.28 L189.00,282.14 L189.25,281.98 L189.50,281.80 L189.75,281.32 L190.00,280.47 L190.25,279.23 L190.50,277.41 L190.75,274.85 L191.00,271.62 L191.25,268.22 L191.50,265.55 L191.75,264.16 L192.00,263.77 L192.25,263.75 L192.50,263.85 L192.75,264.57 L193.00,266.48 L193.25,269.54 L193.50,272.97 L193.75,275.97 L194.00,278.22 L194.25,279.78 L194.50,280.85 L194.75,281.58 L195.00,281.88 L195.25,282.05 L195.50,282.20 L195.75,282.33 L196.00,282.44 L196.25,282.56 L196.50,282.69 L196.75,282.80 L197.00,282.90 L197.25,282.99 L197.50,283.07 L197.75,283.14 L198.00,283.21 L198.25,283.26 L198.50,283.31 L198.75,283.36 L199.00,283.40 L199.25,283.00 L199.50,282.35 L199.75,281.75 L200.00,281.34 L200.25,281.21 L200.50,281.20 L200.75,281.21 L201.00,281.34 L201.25,281.75 L201.50,282.35 L201.75,283.00 L202.00,283.43 L202.25,283.65 L202.50,283.70 L202.75,283.74 L203.00,283.75 L203.25,283.76 L203.50,283.77 L203.75,283.78 L204.00,283.79 L204.25,283.80 L204.50,283.81 L204.75,283.81 L205.00,283.82 L205.25,283.83 L205.50,283.83 L205.75,283.84 L206.00,283.84 L206.25,283.85 L206.50,283.85 L206.75,283.86 L207.00,283.86 L207.25,283.85 L207.50,283.85 L207.75,283.84 L208.00,283.84 L208.25,283.83 L208.50,283.82 L208.75,283.82 L209.00,283.81 L209.25,283.80 L209.50,283.79 L209.75,283.79 L210.00,283.78 L210.25,283.77 L210.50,283.76 L210.75,283.74 L211.00,283.73 L211.25,283.72 L211.50,283.71 L211.75,283.69 L212.00,283.67 L212.25,283.66 L212.50,283.64 L212.75,283.62 L213.00,283.60 L213.25,283.57 L213.50,283.55 L213.75,283.52 L214.00,283.49 L214.25,283.45 L214.50,283.42 L214.75,283.38 L215.00,283.33 L215.25,283.28 L215.50,283.23 L215.75,283.16 L216.00,283.10 L216.25,283.02 L216.50,282.93 L216.75,282.83 L217.00,282.72 L217.25,282.59 L217.50,282.47 L217.75,282.36 L218.00,282.23 L218.25,282.09 L218.50,281.92 L218.75,281.62 L219.00,280.92 L219.25,279.88 L219.50,278.35 L219.75,276.16 L220.00,273.24 L220.25,269.90 L220.50,266.91 L220.75,265.05 L221.00,264.35 L221.25,264.25 L221.50,264.27 L221.75,264.65 L222.00,266.01 L222.25,268.60 L222.50,271.92 L222.75,275.07 L223.00,277.56 L223.25,279.34 L223.50,280.55 L223.75,281.37 L224.00,281.85 L224.25,282.02 L224.50,282.17 L224.75,282.31 L225.00,282.42 L225.25,282.54 L225.50,282.67 L225.75,282.79 L226.00,282.89 L226.25,282.98 L226.50,283.07 L226.75,283.14 L227.00,283.20 L227.25,283.26 L227.50,283.31 L227.75,283.36 L228.00,283.40 L228.25,283.44 L228.50,283.48 L228.75,283.51 L229.00,283.54 L229.25,283.56 L229.50,283.59 L229.75,283.61 L230.00,283.63 L230.25,283.65 L230.50,283.67 L230.75,283.68 L231.00,283.70 L231.25,283.71 L231.50,283.73 L231.75,283.74 L232.00,283.75 L232.25,283.76 L232.50,283.77 L232.75,283.78 L233.00,283.79 L233.25,283.80 L233.50,283.81 L233.75,283.81 L234.00,283.82 L234.25,283.83 L234.50,283.83 L234.75,283.84 L235.00,283.85 L235.25,283.85 L235.50,283.86 L235.75,283.86 L236.00,283.87 L236.25,283.87 L236.50,283.87 L236.75,283.88 L237.00,283.88 L237.25,283.89 L237.50,283.89 L237.75,283.89 L238.00,283.90 L238.25,283.90 L238.50,283.90 L238.75,283.90 L239.00,283.90 L239.25,283.90 L239.50,283.89 L239.75,283.89 L240.00,283.88 L240.25,283.88 L240.50,283.87 L240.75,283.86 L241.00,283.86 L241.25,283.85 L241.50,283.84 L241.75,283.83 L242.00,283.82 L242.25,283.81 L242.50,283.80 L242.75,283.79 L243.00,283.78 L243.25,283.77 L243.50,283.75 L243.75,283.73 L244.00,283.72 L244.25,283.70 L244.50,283.67 L244.75,283.65 L245.00,283.62 L245.25,283.59 L245.50,283.56 L245.75,283.52 L246.00,283.48 L246.25,283.43 L246.50,283.37 L246.75,283.31 L247.00,283.24 L247.25,283.16 L247.50,283.06 L247.75,282.96 L248.00,282.84 L248.25,282.56 L248.50,282.17 L248.75,281.63 L249.00,280.84 L249.25,279.72 L249.50,278.26 L249.75,276.65 L250.00,275.30 L250.25,274.53 L250.50,274.28 L250.75,274.25 L251.00,274.28 L251.25,274.53 L251.50,275.30 L251.75,276.65 L252.00,278.26 L252.25,279.72 L252.50,280.84 L252.75,281.63 L253.00,282.17 L253.25,282.56 L253.50,282.84 L253.75,282.96 L254.00,283.06 L254.25,283.16 L254.50,283.24 L254.75,283.31 L255.00,283.37 L255.25,283.43 L255.50,283.48 L255.75,283.52 L256.00,283.56 L256.25,283.59 L256.50,283.62 L256.75,283.65 L257.00,283.67 L257.25,283.70 L257.50,283.72 L257.75,283.73 L258.00,283.75 L258.25,283.77 L258.50,283.78 L258.75,283.79 L259.00,283.80 L259.25,283.81 L259.50,283.82 L259.75,283.83 L260.00,283.84 L260.25,283.85 L260.50,283.86 L260.75,283.86 L261.00,283.87 L261.25,283.88 L261.50,283.88 L261.75,283.89 L262.00,283.89 L262.25,283.90 L262.50,283.90 L262.75,283.90 L263.00,283.91 L263.25,283.91 L263.50,283.91 L263.75,283.92 L264.00,283.92 L264.25,283.92 L264.50,283.93 L264.75,283.93 L265.00,283.93 L265.25,283.93 L265.50,283.94 L265.75,283.94 L266.00,283.94 L266.25,283.94 L266.50,283.94 L266.75,283.95 L267.00,283.95 L267.25,283.95 L267.50,283.95 L267.75,283.95 L268.00,283.95 L268.25,283.95 L268.50,283.96 L268.75,283.96 L269.00,283.96 L269.25,283.96 L269.50,283.96 L269.75,283.96 L270.00,283.96 L270.25,283.96 L270.50,283.96 L270.75,283.96 L271.00,283.97 L271.25,283.97 L271.50,283.97 L271.75,283.97 L272.00,283.97 L272.25,283.97 L272.50,283.97 L272.75,283.97 L273.00,283.97 L273.25,283.97 L273.50,283.97 L273.75,283.97 L274.00,283.97 L274.25,283.97 L274.50,283.97 L274.75,283.98 L275.00,283.98 L275.25,283.98 L275.50,283.98 L275.75,283.98 L276.00,283.98 L276.25,283.98 L276.50,283.98 L276.75,283.98 L277.00,283.98 L277.25,283.98 L277.50,283.98 L277.75,283.98 L278.00,283.98 L278.25,283.98 L278.50,283.98 L278.75,283.98 L279.00,283.98 L279.25,283.98 L279.50,283.97 L279.75,283.97 L280.00,283.97 L280.25,283.97 L280.50,283.97 L280.75,283.97 L281.00,283.97 L281.25,283.97 L281.50,283.97 L281.75,283.97 L282.00,283.97 L282.25,283.97 L282.50,283.97 L282.75,283.97 L283.00,283.96 L283.25,283.96 L283.50,283.96 L283.75,283.96 L284.00,283.96 L284.25,283.96 L284.50,283.96 L284.75,283.96 L285.00,283.95 L285.25,283.95 L285.50,283.95 L285.75,283.95 L286.00,283.95 L286.25,283.95 L286.50,283.94 L286.75,283.94 L287.00,283.94 L287.25,283.94 L287.50,283.94 L287.75,283.93 L288.00,283.93 L288.25,283.93 L288.50,283.92 L288.75,283.92 L289.00,283.92 L289.25,283.91 L289.50,283.91 L289.75,283.91 L290.00,283.90 L290.25,283.90 L290.50,283.89 L290.75,283.89 L291.00,283.88 L291.25,283.88 L291.50,283.87 L291.75,283.86 L292.00,283.85 L292.25,283.85 L292.50,283.84 L292.75,283.83 L293.00,283.82 L293.25,283.80 L293.50,283.79 L293.75,283.78 L294.00,283.76 L294.25,283.74 L294.50,283.73 L294.75,283.70 L295.00,283.68 L295.25,283.65 L295.50,283.62 L295.75,283.59 L296.00,283.55 L296.25,283.51 L296.50,283.46 L296.75,283.40 L297.00,283.34 L297.25,283.27 L297.50,283.18 L297.75,283.09 L298.00,282.87 L298.25,282.46 L298.50,282.04 L298.75,281.42 L299.00,280.54 L299.25,279.39 L299.50,278.13 L299.75,277.07 L300.00,276.47 L300.25,276.27 L300.50,276.25 L300.75,276.27 L301.00,276.47 L301.25,277.07 L301.50,278.13 L301.75,279.39 L302.00,280.54 L302.25,281.42 L302.50,282.04 L302.75,282.46 L303.00,282.87 L303.25,283.09 L303.50,283.18 L303.75,283.27 L304.00,283.34 L304.25,283.40 L304.50,283.46 L304.75,283.51 L305.00,283.55 L305.25,283.59 L305.50,283.62 L305.75,283.65 L306.00,283.68 L306.25,283.70 L306.50,283.73 L306.75,283.74 L307.00,283.76 L307.25,283.78 L307.50,283.79 L307.75,283.80 L308.00,283.82 L308.25,283.83 L308.50,283.84 L308.75,283.85 L309.00,283.85 L309.25,283.83 L309.50,283.81 L309.75,283.79 L310.00,283.77 L310.25,283.74 L310.50,283.70 L310.75,283.66 L311.00,283.62 L311.25,283.53 L311.50,283.25 L311.75,282.80 L312.00,282.24 L312.25,281.64 L312.50,281.11 L312.75,280.83 L313.00,280.76 L313.25,280.75 L313.50,280.76 L313.75,280.83 L314.00,281.11 L314.25,281.64 L314.50,282.24 L314.75,282.80 L315.00,283.25 L315.25,283.53 L315.50,283.62 L315.75,283.66 L316.00,283.70 L316.25,283.68 L316.50,283.66 L316.75,283.63 L317.00,283.60 L317.25,283.57 L317.50,283.53 L317.75,283.49 L318.00,283.44 L318.25,283.39 L318.50,283.33 L318.75,283.26 L319.00,283.18 L319.25,283.09 L319.50,282.99 L319.75,282.87 L320.00,282.60 L320.25,282.21 L320.50,281.68 L320.75,280.91 L321.00,279.82 L321.25,278.40 L321.50,276.83 L321.75,275.52 L322.00,274.77 L322.25,274.52 L322.50,274.50 L322.75,274.52 L323.00,274.77 L323.25,275.52 L323.50,276.83 L323.75,278.40 L324.00,279.82 L324.25,280.91 L324.50,281.68 L324.75,282.21 L325.00,282.60 L325.25,282.87 L325.50,282.99 L325.75,283.09 L326.00,283.18 L326.25,283.26 L326.50,283.33 L326.75,283.39 L327.00,283.44 L327.25,283.49 L327.50,283.53 L327.75,283.57 L328.00,283.60 L328.25,283.63 L328.50,283.66 L328.75,283.68 L329.00,283.70 L329.25,283.72 L329.50,283.74 L329.75,283.76 L330.00,283.77 L330.25,283.79 L330.50,283.80 L330.75,283.81 L331.00,283.82 L331.25,283.83 L331.50,283.84 L331.75,283.85 L332.00,283.85 L332.25,283.86 L332.50,283.87 L332.75,283.87 L333.00,283.88 L333.25,283.88 L333.50,283.89 L333.75,283.89 L334.00,283.90 L334.25,283.90 L334.50,283.91 L334.75,283.91 L335.00,283.91 L335.25,283.92 L335.50,283.92 L335.75,283.92 L336.00,283.93 L336.25,283.93 L336.50,283.93 L336.75,283.93 L337.00,283.94 L337.25,283.94 L337.50,283.94 L337.75,283.94 L338.00,283.94 L338.25,283.95 L338.50,283.95 L338.75,283.95 L339.00,283.95 L339.25,283.95 L339.50,283.95 L339.75,283.95 L340.00,283.96 L340.25,283.96 L340.50,283.96 L340.75,283.96 L341.00,283.96 L341.25,283.96 L341.50,283.96 L341.75,283.96 L342.00,283.96 L342.25,283.96 L342.50,283.97 L342.75,283.97 L343.00,283.97 L343.25,283.97 L343.50,283.97 L343.75,283.97 L344.00,283.97 L344.25,283.97 L344.50,283.97 L344.75,283.97 L345.00,283.97 L345.25,283.97 L345.50,283.97 L345.75,283.97 L346.00,283.98 L346.25,283.98 L346.50,283.98 L346.75,283.98 L347.00,283.98 L347.25,283.98 L347.50,283.98 L347.75,283.98 L348.00,283.98 L348.25,283.98 L348.50,283.98 L348.75,283.98 L349.00,283.98 L349.25,283.98 L349.50,283.98 L349.75,283.98 L350.00,283.98 L350.25,283.98 L350.50,283.98 L350.75,283.98 L351.00,283.98 L351.25,283.98 L351.50,283.98 L351.75,283.98 L352.00,283.98 L352.25,283.98 L352.50,283.98 L352.75,283.98 L353.00,283.99 L353.25,283.99 L353.50,283.99 L353.75,283.99 L354.00,283.99 L354.25,283.98 L354.50,283.98 L354.75,283.98 L355.00,283.98 L355.25,283.98 L355.50,283.98 L355.75,283.98 L356.00,283.98 L356.25,283.98 L356.50,283.98 L356.75,283.98 L357.00,283.98 L357.25,283.98 L357.50,283.98 L357.75,283.98 L358.00,283.98 L358.25,283.98 L358.50,283.98 L358.75,283.98 L359.00,283.98 L359.25,283.98 L359.50,283.98 L359.75,283.98 L360.00,283.98 L360.25,283.98 L360.50,283.98 L360.75,283.98 L361.00,283.98 L361.25,283.98 L361.50,283.98 L361.75,283.98 L362.00,283.98 L362.25,283.98 L362.50,283.98 L362.75,283.98 L363.00,283.98 L363.25,283.98 L363.50,283.98 L363.75,283.98 L364.00,283.98 L364.25,283.98 L364.50,283.98 L364.75,283.98 L365.00,283.98 L365.25,283.98 L365.50,283.98 L365.75,283.98 L366.00,283.98 L366.25,283.98 L366.50,283.98 L366.75,283.98 L367.00,283.97 L367.25,283.97 L367.50,283.97 L367.75,283.97 L368.00,283.97 L368.25,283.97 L368.50,283.97 L368.75,283.97 L369.00,283.97 L369.25,283.97 L369.50,283.97 L369.75,283.97 L370.00,283.97 L370.25,283.97 L370.50,283.97 L370.75,283.97 L371.00,283.97 L371.25,283.97 L371.50,283.97 L371.75,283.97 L372.00,283.97 L372.25,283.97 L372.50,283.97 L372.75,283.97 L373.00,283.97 L373.25,283.97 L373.50,283.96 L373.75,283.96 L374.00,283.96 L374.25,283.96 L374.50,283.96 L374.75,283.96 L375.00,283.96 L375.25,283.96 L375.50,283.96 L375.75,283.96 L376.00,283.96 L376.25,283.96 L376.50,283.96 L376.75,283.96 L377.00,283.96 L377.25,283.96 L377.50,283.96 L377.75,283.96 L378.00,283.95 L378.25,283.95 L378.50,283.95 L378.75,283.95 L379.00,283.95 L379.25,283.95 L379.50,283.95 L379.75,283.95 L380.00,283.95 L380.25,283.94 L380.50,283.94 L380.75,283.94 L381.00,283.94 L381.25,283.94 L381.50,283.94 L381.75,283.94 L382.00,283.93 L382.25,283.93 L382.50,283.93 L382.75,283.93 L383.00,283.93 L383.25,283.92 L383.50,283.92 L383.75,283.92 L384.00,283.92 L384.25,283.92 L384.50,283.91 L384.75,283.91 L385.00,283.91 L385.25,283.90 L385.50,283.90 L385.75,283.90 L386.00,283.90 L386.25,283.89 L386.50,283.89 L386.75,283.88 L387.00,283.88 L387.25,283.88 L387.50,283.87 L387.75,283.87 L388.00,283.86 L388.25,283.86 L388.50,283.85 L388.75,283.84 L389.00,283.84 L389.25,283.83 L389.50,283.82 L389.75,283.82 L390.00,283.81 L390.25,283.80 L390.50,283.79 L390.75,283.78 L391.00,283.77 L391.25,283.76 L391.50,283.75 L391.75,283.73 L392.00,283.72 L392.25,283.70 L392.50,283.69 L392.75,283.67 L393.00,283.65 L393.25,283.63 L393.50,283.60 L393.75,283.58 L394.00,283.55 L394.25,283.52 L394.50,283.48 L394.75,283.44 L395.00,283.40 L395.25,283.35 L395.50,283.30 L395.75,283.24 L396.00,283.17 L396.25,283.10 L396.50,283.01 L396.75,282.91 L397.00,282.80 L397.25,282.67 L397.50,282.52 L397.75,282.40 L398.00,282.27 L398.25,282.12 L398.50,281.94 L398.75,281.73 L399.00,281.50 L399.25,281.23 L399.50,280.94 L399.75,280.62 L400.00,280.30 L400.25,279.99 L400.50,279.65 L400.75,278.02 L401.00,275.90 L401.25,273.57 L401.50,271.62 L401.75,270.50 L402.00,270.14 L402.25,270.10 L402.50,270.14 L402.75,270.50 L403.00,271.62 L403.25,273.57 L403.50,275.90 L403.75,278.02 L404.00,279.65 L404.25,280.80 L404.50,280.73 L404.75,280.30 L405.00,279.90 L405.25,279.61 L405.50,279.50 L405.75,279.61 L406.00,279.90 L406.25,280.30 L406.50,280.73 L406.75,280.85 L407.00,280.33 L407.25,279.72 L407.50,279.05 L407.75,278.39 L408.00,277.86 L408.25,277.61 L408.50,277.72 L408.75,278.15 L409.00,278.78 L409.25,278.91 L409.50,278.69 L409.75,278.55 L410.00,278.50 L410.25,278.55 L410.50,278.69 L410.75,278.91 L411.00,279.19 L411.25,278.20 L411.50,277.02 L411.75,275.98 L412.00,275.31 L412.25,275.10 L412.50,275.18 L412.75,275.65 L413.00,276.57 L413.25,277.73 L413.50,278.88 L413.75,279.87 L414.00,280.66 L414.25,281.26 L414.50,281.72 L414.75,282.07 L415.00,282.34 L415.25,282.56 L415.50,282.72 L415.75,282.81 L416.00,282.89 L416.25,282.97 L416.50,283.03 L416.75,283.10 L417.00,283.15 L417.25,283.20 L417.50,283.25 L417.75,283.29 L418.00,283.33 L418.25,283.37 L418.50,283.40 L418.75,283.43 L419.00,283.46 L419.25,283.43 L419.50,283.31 L419.75,282.69 L420.00,281.73 L420.25,280.30 L420.50,279.17 L420.75,278.91 L421.00,278.90 L421.25,279.06 L421.50,280.01 L421.75,281.48 L422.00,282.49 L422.25,283.24 L422.50,283.41 L422.75,283.51 L423.00,283.46 L423.25,283.05 L423.50,282.44 L423.75,282.02 L424.00,281.79 L424.25,281.75 L424.50,281.75 L424.75,281.78 L425.00,281.95 L425.25,282.35 L425.50,282.93 L425.75,283.39 L426.00,283.65 L426.25,283.75 L426.50,283.79 L426.75,283.82 L427.00,283.84 L427.25,283.85 L427.50,283.85 L427.75,283.85 L428.00,283.86 L428.25,283.85 L428.50,283.80 L428.75,283.74 L429.00,283.65 L429.25,283.55 L429.50,283.43 L429.75,283.32 L430.00,283.22 L430.25,283.15 L430.50,283.12 L430.75,283.10 L431.00,283.10 L431.25,283.10 L431.50,283.10 L431.75,283.10 L432.00,283.12 L432.25,283.15 L432.50,283.22 L432.75,283.32 L433.00,283.43 L433.25,283.55 L433.50,283.65 L433.75,283.74 L434.00,283.80 L434.25,283.85 L434.50,283.89 L434.75,283.91 L435.00,283.92 L435.25,283.92 L435.50,283.93 L435.75,283.93 L436.00,283.93 L436.25,283.93 L436.50,283.93 L436.75,283.94 L437.00,283.94 L437.25,283.94 L437.50,283.94 L437.75,283.94 L438.00,283.94 L438.25,283.94 L438.50,283.94 L438.75,283.94 L439.00,283.94 L439.25,283.95 L439.50,283.95 L439.75,283.95 L440.00,283.95 L440.25,283.95 L440.50,283.95 L440.75,283.95 L441.00,283.95 L441.25,283.95 L441.50,283.95 L441.75,283.95 L442.00,283.95 L442.25,283.96 L442.50,283.96 L442.75,283.96 L443.00,283.96 L443.25,283.96 L443.50,283.96 L443.75,283.96 L444.00,283.96 L444.25,283.96 L444.50,283.96 L444.75,283.96 L445.00,283.96 L445.25,283.96 L445.50,283.96 L445.75,283.96 L446.00,283.96 L446.25,283.96 L446.50,283.96 L446.75,283.97 L447.00,283.97 L447.25,283.97 L447.50,283.97 L447.75,283.97 L448.00,283.97 L448.25,283.97 L448.50,283.97 L448.75,283.97 L449.00,283.97 L449.25,283.97 L449.50,283.97 L449.75,283.96 L450.00,283.96 L450.25,283.96 L450.50,283.96 L450.75,283.95 L451.00,283.95 L451.25,283.94 L451.50,283.93 L451.75,283.92 L452.00,283.91 L452.25,283.90 L452.50,283.88 L452.75,283.86 L453.00,283.83 L453.25,283.79 L453.50,283.68 L453.75,283.35 L454.00,282.73 L454.25,282.20 L454.50,282.01 L454.75,282.00 L455.00,282.01 L455.25,282.20 L455.50,282.73 L455.75,283.35 L456.00,283.68 L456.25,283.79 L456.50,283.78 L456.75,283.73 L457.00,283.67 L457.25,283.60 L457.50,283.50 L457.75,283.01 L458.00,282.03 L458.25,280.80 L458.50,280.15 L458.75,280.10 L459.00,280.15 L459.25,280.80 L459.50,282.03 L459.75,283.01 L460.00,283.50 L460.25,283.60 L460.50,283.67 L460.75,283.73 L461.00,283.78 L461.25,283.81 L461.50,283.84 L461.75,283.86 L462.00,283.85 L462.25,283.85 L462.50,283.84 L462.75,283.83 L463.00,283.83 L463.25,283.82 L463.50,283.81 L463.75,283.80 L464.00,283.79 L464.25,283.78 L464.50,283.77 L464.75,283.75 L465.00,283.74 L465.25,283.72 L465.50,283.71 L465.75,283.69 L466.00,283.67 L466.25,283.65 L466.50,283.63 L466.75,283.60 L467.00,283.57 L467.25,283.54 L467.50,283.51 L467.75,283.47 L468.00,283.43 L468.25,283.38 L468.50,283.30 L468.75,283.21 L469.00,283.10 L469.25,282.97 L469.50,282.81 L469.75,282.62 L470.00,282.42 L470.25,282.23 L470.50,282.00 L470.75,281.73 L471.00,281.42 L471.25,281.10 L471.50,280.80 L471.75,279.76 L472.00,278.19 L472.25,276.13 L472.50,273.87 L472.75,271.97 L473.00,270.89 L473.25,270.54 L473.50,270.50 L473.75,270.54 L474.00,270.89 L474.25,271.97 L474.50,273.87 L474.75,273.90 L475.00,273.90 L475.25,273.98 L475.50,274.43 L475.75,275.49 L476.00,277.05 L476.25,278.70 L476.50,278.90 L476.75,279.02 L477.00,279.36 L477.25,279.82 L477.50,280.32 L477.75,280.79 L478.00,281.20 L478.25,281.55 L478.50,281.79 L478.75,281.36 L479.00,280.82 L479.25,280.16 L479.50,279.44 L479.75,278.84 L480.00,278.60 L480.25,278.84 L480.50,279.44 L480.75,280.16 L481.00,280.82 L481.25,281.36 L481.50,281.79 L481.75,282.11 L482.00,282.02 L482.25,281.72 L482.50,281.34 L482.75,280.89 L483.00,280.40 L483.25,279.93 L483.50,279.59 L483.75,279.51 L484.00,279.70 L484.25,280.11 L484.50,280.60 L484.75,281.08 L485.00,281.50 L485.25,281.85 L485.50,282.13 L485.75,282.35 L486.00,282.55 L486.25,282.76 L486.50,282.94 L486.75,283.08 L487.00,283.19 L487.25,283.29 L487.50,283.35 L487.75,282.88 L488.00,282.36 L488.25,282.09 L488.50,282.01 L488.75,282.00 L489.00,282.01 L489.25,282.09 L489.50,282.36 L489.75,282.88 L490.00,283.35 L490.25,283.63 L490.50,283.77 L490.75,283.80 L491.00,283.82 L491.25,283.80 L491.50,283.77 L491.75,283.73 L492.00,283.67 L492.25,283.61 L492.50,283.53 L492.75,283.27 L493.00,282.52 L493.25,281.58 L493.50,280.55 L493.75,280.13 L494.00,280.10 L494.25,280.13 L494.50,280.55 L494.75,281.58 L495.00,282.31 L495.25,282.30 L495.50,282.30 L495.75,282.30 L496.00,282.31 L496.25,282.37 L496.50,282.50 L496.75,282.79 L497.00,283.10 L497.25,283.37 L497.50,283.57 L497.75,283.70 L498.00,283.79 L498.25,283.83 L498.50,283.85 L498.75,283.86 L499.00,283.87 L499.25,283.88 L499.50,283.90 L499.75,283.90 L500.00,283.91 L500.25,283.92 L500.50,283.93 L500.75,283.93 L501.00,283.94 L501.25,283.94 L501.50,283.95 L501.75,283.95 L502.00,283.95 L502.25,283.96 L502.50,283.96 L502.75,283.96 L503.00,283.96 L503.25,283.97 L503.50,283.97 L503.75,283.97 L504.00,283.97 L504.25,283.97 L504.50,283.97 L504.75,283.98 L505.00,283.98 L505.25,283.98 L505.50,283.98 L505.75,283.98 L506.00,283.98 L506.25,283.98 L506.50,283.98 L506.75,283.98 L507.00,283.98 L507.25,283.98 L507.50,283.98 L507.50,284.00 Z" fill="#1a1a1a"/>
<text x="180.39" y="294.40" font-size="7.71" font-family="Liberation Sans, sans-serif" font-weight="normal" fill="#222" textLength="21.48" lengthAdjust="spacingAndGlyphs" stroke="#222" stroke-width="0.16">HS-31</text>
<text x="210.61" y="294.40" font-size="7.71" font-family="Liberation Sans, sans-serif" font-weight="normal" fill="#222" textLength="22.65" lengthAdjust="spacingAndGlyphs" stroke="#222" stroke-width="0.16">HS-26</text>
<text x="240.38" y="294.40" font-size="7.71" font-family="Liberation Sans, sans-serif" font-weight="normal" fill="#222" textLength="21.90" lengthAdjust="spacingAndGlyphs" stroke="#222" stroke-width="0.16">HS-21</text>
<text x="287.36" y="294.60" font-size="8.00" font-family="Liberation Sans, sans-serif" font-weight="normal" fill="#222" textLength="22.53" lengthAdjust="spacingAndGlyphs" stroke="#222" stroke-width="0.16">HS-12</text>
<text x="311.77" y="304.60" font-size="7.64" font-family="Liberation Sans, sans-serif" font-weight="normal" fill="#222" textLength="17.82" lengthAdjust="spacingAndGlyphs" stroke="#222" stroke-width="0.16">HS-8</text>
<line x1="373.4" y1="295.8" x2="431.6" y2="295.8" stroke="#555" stroke-width="1.2"/>
<text x="392.29" y="305.90" font-size="8.00" font-family="Liberation Sans, sans-serif" font-weight="normal" fill="#222" textLength="20.05" lengthAdjust="spacingAndGlyphs" stroke="#222" stroke-width="0.16">10 kb</text>
<text x="28.50" y="321.50" font-size="8.21" font-family="Liberation Sans, sans-serif" font-weight="normal" fill="#222" textLength="23.80" lengthAdjust="spacingAndGlyphs" stroke="#222" stroke-width="0.16">Genes</text>
<line x1="85" y1="320.2" x2="117" y2="320.2" stroke="#222" stroke-width="0.9"/>
<rect x="84.30" y="317.30" width="1.6" height="5.8" fill="#222"/>
<rect x="91.10" y="317.30" width="1.6" height="5.8" fill="#222"/>
<rect x="103.00" y="317.30" width="1.5" height="5.8" fill="#222"/>
<path d="M96.90,318.60 L99.20,320.2 L96.90,321.80 Z" fill="#222"/>
<path d="M108.20,318.60 L110.50,320.2 L108.20,321.80 Z" fill="#222"/>
<rect x="113.2" y="317.6" width="1.6" height="5" fill="#1a1a1a"/><rect x="113.8" y="318.8" width="5" height="2.9" fill="#1a1a1a"/>
<text x="85.24" y="345.50" font-size="8.12" font-family="Liberation Sans, sans-serif" font-weight="normal" fill="#222" textLength="18.48" lengthAdjust="spacingAndGlyphs" stroke="#222" stroke-width="0.16">Mpg</text>
<line x1="115.6" y1="331.5" x2="314" y2="331.5" stroke="#222" stroke-width="0.9"/>
<rect x="125.85" y="328.50" width="1.3" height="6" fill="#222"/>
<rect x="130.35" y="328.50" width="1.3" height="6" fill="#222"/>
<rect x="141.85" y="328.50" width="1.3" height="6" fill="#222"/>
<rect x="144.35" y="328.50" width="1.3" height="6" fill="#222"/>
<rect x="158.35" y="328.50" width="1.3" height="6" fill="#222"/>
<rect x="169.75" y="328.50" width="1.3" height="6" fill="#222"/>
<rect x="204.95" y="328.50" width="1.3" height="6" fill="#222"/>
<rect x="215.60" y="328.50" width="1.3" height="6" fill="#222"/>
<rect x="235.85" y="328.50" width="1.3" height="6" fill="#222"/>
<rect x="245.35" y="328.50" width="1.3" height="6" fill="#222"/>
<rect x="265.85" y="328.50" width="1.3" height="6" fill="#222"/>
<rect x="287.85" y="328.50" width="1.3" height="6" fill="#222"/>
<rect x="312.30" y="329.25" width="1.6" height="4.5" fill="#222"/>
<path d="M138.95,329.90 L136.65,331.5 L138.95,333.10 Z" fill="#222"/>
<path d="M153.10,329.90 L150.80,331.5 L153.10,333.10 Z" fill="#222"/>
<path d="M167.45,329.90 L165.15,331.5 L167.45,333.10 Z" fill="#222"/>
<path d="M178.10,329.90 L175.80,331.5 L178.10,333.10 Z" fill="#222"/>
<path d="M190.60,329.90 L188.30,331.5 L190.60,333.10 Z" fill="#222"/>
<path d="M202.45,329.90 L200.15,331.5 L202.45,333.10 Z" fill="#222"/>
<path d="M213.70,329.90 L211.40,331.5 L213.70,333.10 Z" fill="#222"/>
<path d="M224.70,329.90 L222.40,331.5 L224.70,333.10 Z" fill="#222"/>
<path d="M236.70,329.90 L234.40,331.5 L236.70,333.10 Z" fill="#222"/>
<path d="M246.20,329.90 L243.90,331.5 L246.20,333.10 Z" fill="#222"/>
<path d="M254.30,329.90 L252.00,331.5 L254.30,333.10 Z" fill="#222"/>
<path d="M265.60,329.90 L263.30,331.5 L265.60,333.10 Z" fill="#222"/>
<path d="M266.70,329.90 L264.40,331.5 L266.70,333.10 Z" fill="#222"/>
<path d="M274.30,329.90 L272.00,331.5 L274.30,333.10 Z" fill="#222"/>
<path d="M286.80,329.90 L284.50,331.5 L286.80,333.10 Z" fill="#222"/>
<path d="M296.20,329.90 L293.90,331.5 L296.20,333.10 Z" fill="#222"/>
<path d="M308.45,329.90 L306.15,331.5 L308.45,333.10 Z" fill="#222"/>
<rect x="115.3" y="330.1" width="5.5" height="2.8" fill="#222"/>
<rect x="120.2" y="328.9" width="1.4" height="5.3" fill="#222"/>
<text x="195.29" y="345.25" font-size="7.59" font-family="Liberation Sans, sans-serif" font-weight="normal" fill="#222" textLength="21.10" lengthAdjust="spacingAndGlyphs" stroke="#222" stroke-width="0.16">Nprl3</text>
<path d="M365.2,317 L364.4,317 Q363,317 363,320.3 Q363,323.7 364.4,323.7 L365.2,323.7 Z" fill="#222"/><rect x="369" y="317" width="2.8" height="6" fill="#333"/><line x1="365" y1="320.3" x2="369.5" y2="320.3" stroke="#333" stroke-width="0.8"/>
<rect x="402.1" y="317.1" width="5.10" height="5.7" fill="#5a5a5a"/>
<line x1="402.60" y1="317.1" x2="402.60" y2="322.8" stroke="#1e1e1e" stroke-width="0.9"/>
<line x1="404.65" y1="317.1" x2="404.65" y2="322.8" stroke="#1e1e1e" stroke-width="0.9"/>
<line x1="406.70" y1="317.1" x2="406.70" y2="322.8" stroke="#1e1e1e" stroke-width="0.9"/>
<line x1="402.1" y1="320" x2="407.2" y2="320" stroke="#222" stroke-width="0.8"/>
<rect x="474" y="317.1" width="4.80" height="5.7" fill="#5a5a5a"/>
<line x1="474.50" y1="317.1" x2="474.50" y2="322.8" stroke="#1e1e1e" stroke-width="0.9"/>
<line x1="476.40" y1="317.1" x2="476.40" y2="322.8" stroke="#1e1e1e" stroke-width="0.9"/>
<line x1="478.30" y1="317.1" x2="478.30" y2="322.8" stroke="#1e1e1e" stroke-width="0.9"/>
<line x1="474" y1="320" x2="478.8" y2="320" stroke="#222" stroke-width="0.8"/>
<rect x="421.2" y="317.2" width="4.00" height="5.6" fill="#4a4a4a"/>
<path d="M425.00,317.2 Q426.80,317.2 426.80,320 Q426.80,322.8 425.00,322.8 Z" fill="#151515"/>
<line x1="421.2" y1="320" x2="425.8" y2="320" stroke="#222" stroke-width="0.8"/>
<rect x="494.2" y="317.2" width="2.90" height="5.6" fill="#4a4a4a"/>
<path d="M496.90,317.2 Q498.70,317.2 498.70,320 Q498.70,322.8 496.90,322.8 Z" fill="#151515"/>
<line x1="494.2" y1="320" x2="497.7" y2="320" stroke="#222" stroke-width="0.8"/>
<text x="-0.64" y="0" font-size="7.97" font-family="Liberation Sans, sans-serif" fill="#222" textLength="21.28" lengthAdjust="spacingAndGlyphs" stroke="#222" stroke-width="0.22" transform="translate(356.90,348.80) rotate(-52.5)">Hba-x</text>
<text x="-0.60" y="0" font-size="7.97" font-family="Liberation Sans, sans-serif" fill="#3a6190" textLength="24.60" lengthAdjust="spacingAndGlyphs" stroke="#3a6190" stroke-width="0.22" transform="translate(393.50,351.90) rotate(-52.5)">Hba-a1</text>
<text x="-0.63" y="0" font-size="7.97" font-family="Liberation Sans, sans-serif" fill="#222" textLength="25.66" lengthAdjust="spacingAndGlyphs" stroke="#222" stroke-width="0.22" transform="translate(410.30,352.90) rotate(-52.5)">Hbq-1b</text>
<text x="-0.61" y="0" font-size="7.97" font-family="Liberation Sans, sans-serif" fill="#3a6190" textLength="25.14" lengthAdjust="spacingAndGlyphs" stroke="#3a6190" stroke-width="0.22" transform="translate(463.50,351.60) rotate(-52.5)">Hba-a2</text>
<text x="-0.63" y="0" font-size="7.97" font-family="Liberation Sans, sans-serif" fill="#222" textLength="25.87" lengthAdjust="spacingAndGlyphs" stroke="#222" stroke-width="0.22" transform="translate(483.50,352.60) rotate(-52.5)">Hbq-1a</text>
</svg>
</body></html>
